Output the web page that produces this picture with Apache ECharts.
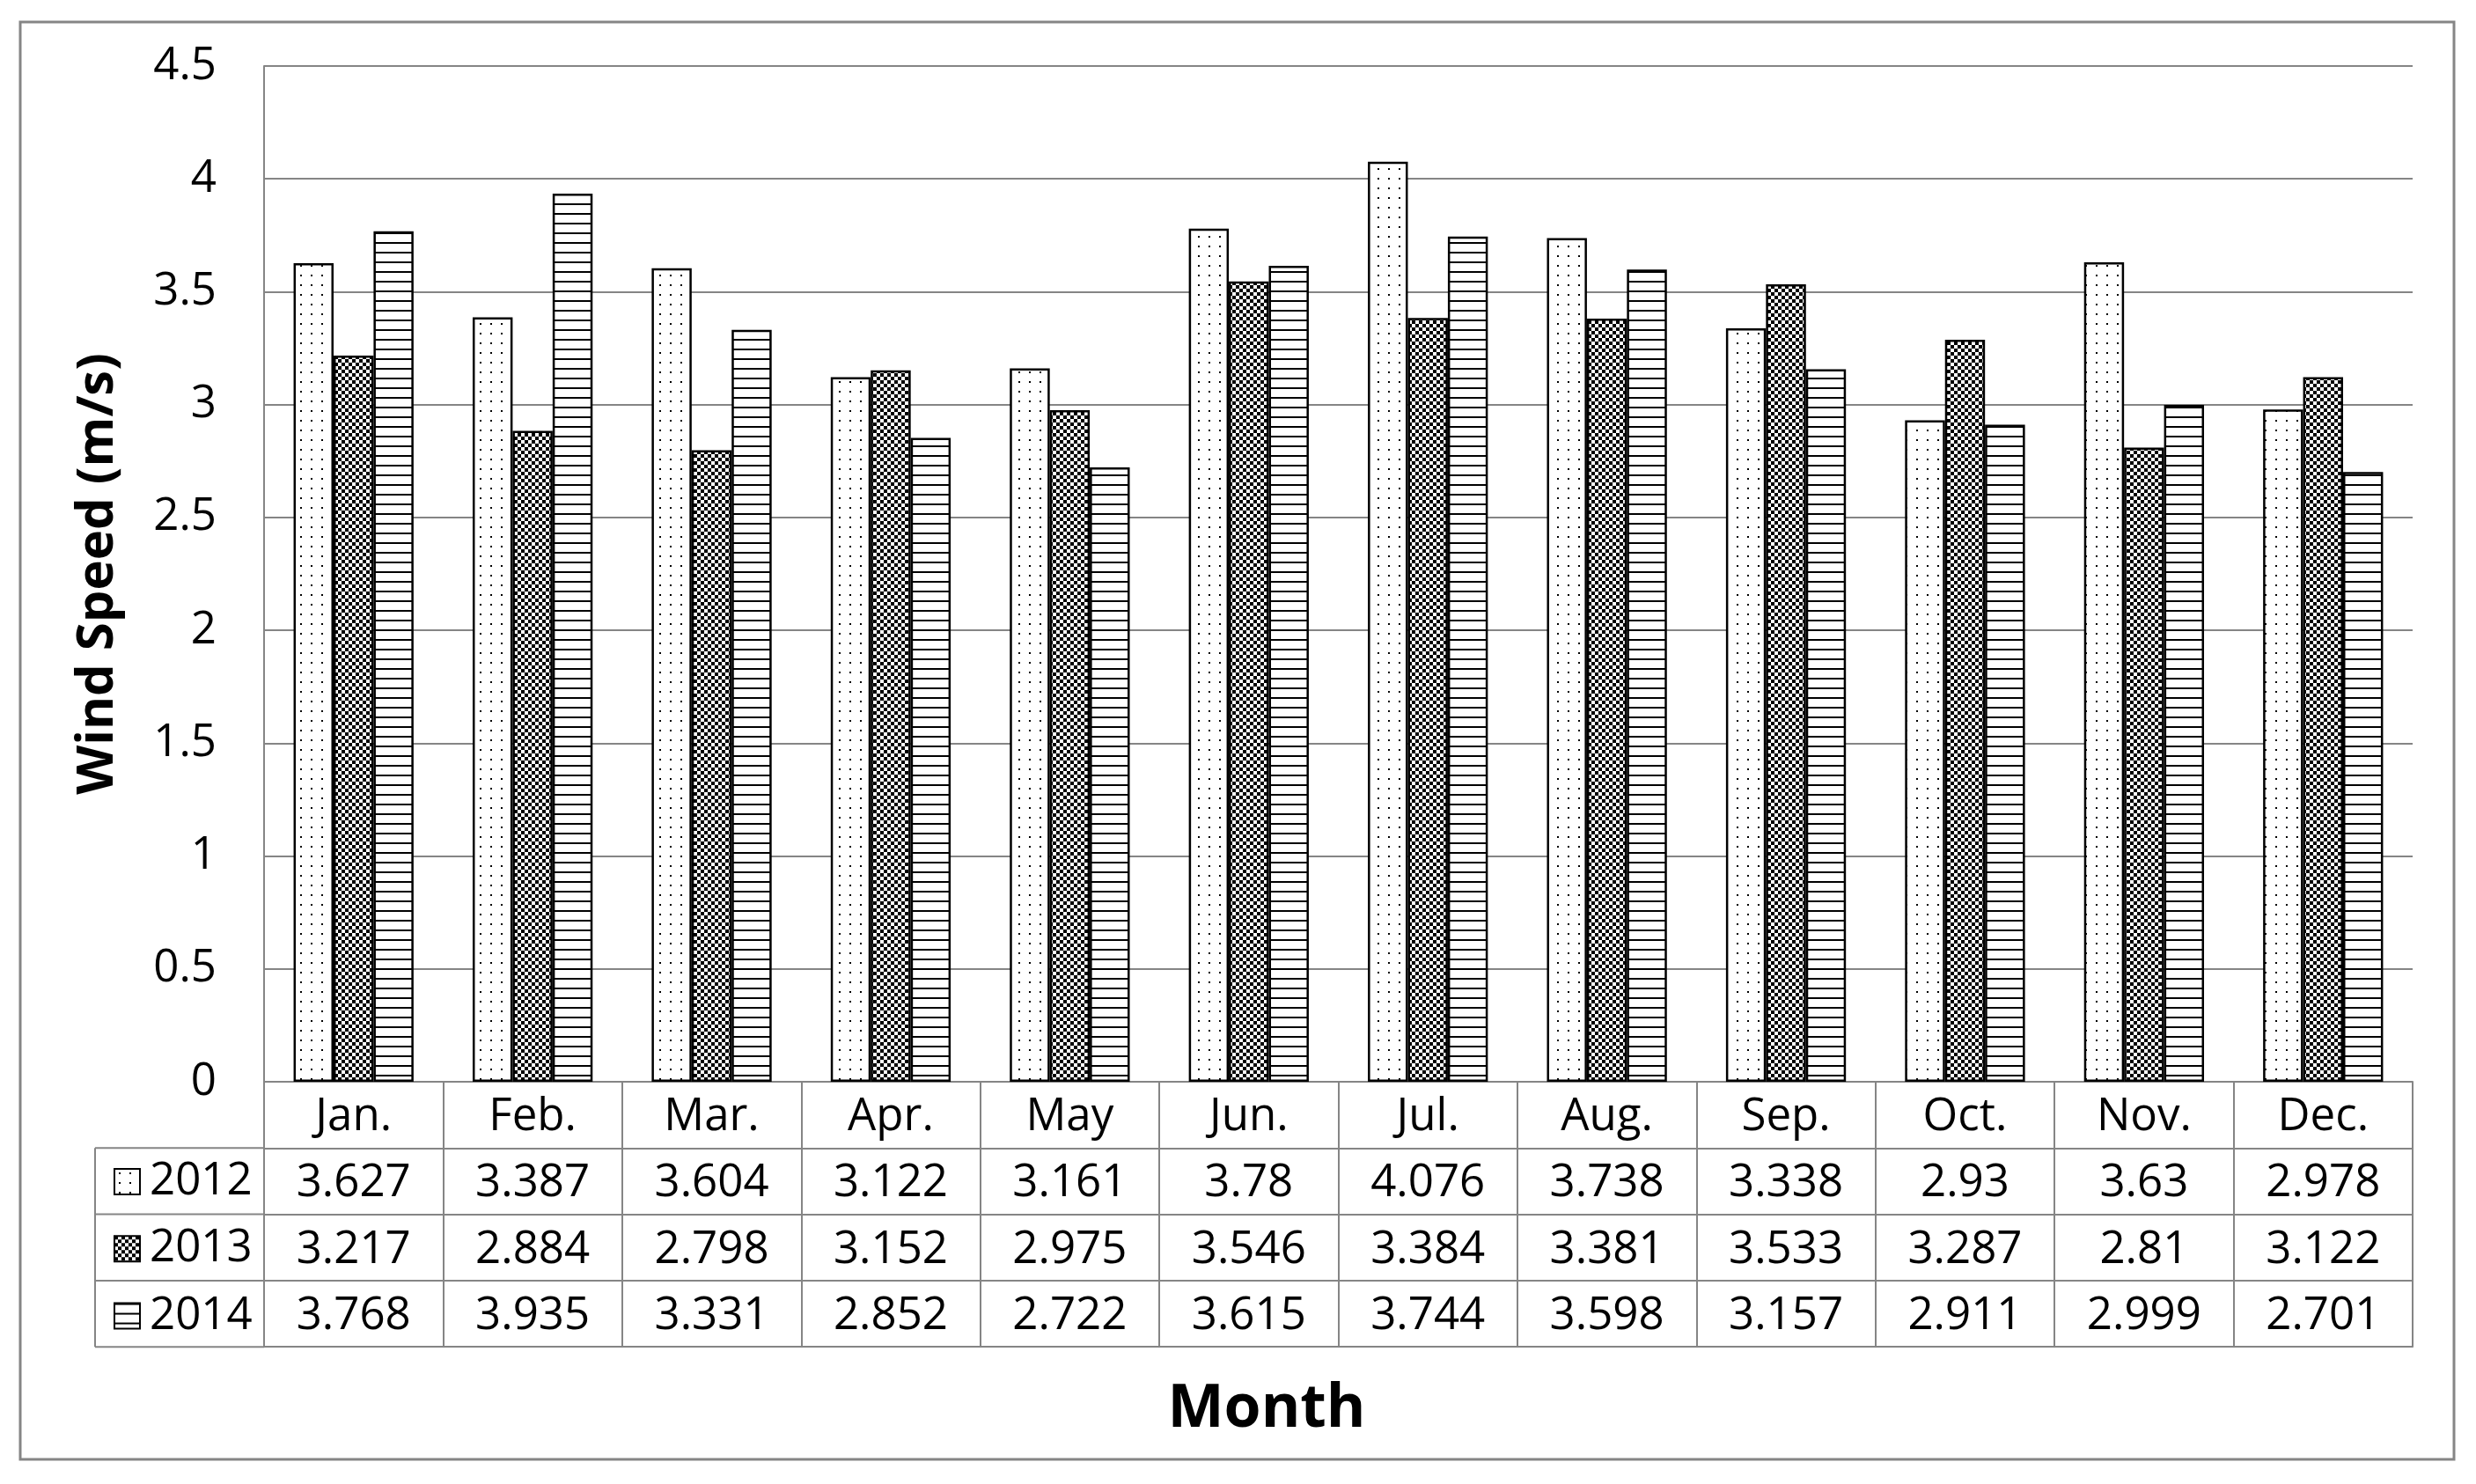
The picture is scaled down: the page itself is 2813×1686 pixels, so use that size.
<!DOCTYPE html>
<html>
<head>
<meta charset="utf-8">
<script src="https://cdn.jsdelivr.net/npm/echarts@6/dist/echarts.min.js"></script>
<style>
html,body{margin:0;padding:0;background:#fff;}
#c{width:2813px;height:1686px;}
</style>
</head>
<body>
<div id="c"></div>
<script>
// ---- data ----
const categories = ['Jan.','Feb.','Mar.','Apr.','May','Jun.','Jul.','Aug.','Sep.','Oct.','Nov.','Dec.'];
const years = ['2012','2013','2014'];
const v2012 = [3.627,3.387,3.604,3.122,3.161,3.78,4.076,3.738,3.338,2.93,3.63,2.978];
const v2013 = [3.217,2.884,2.798,3.152,2.975,3.546,3.384,3.381,3.533,3.287,2.81,3.122];
const v2014 = [3.768,3.935,3.331,2.852,2.722,3.615,3.744,3.598,3.157,2.911,2.999,2.701];
const yMin = 0, yMax = 4.5, yStep = 0.5;
const yName = 'Wind Speed (m/s)';
const xName = 'Month';

// ---- patterns ----
function pattern(kind){
  const c = document.createElement('canvas');
  const g = c.getContext('2d');
  if(kind==='dots'){ c.width=12; c.height=11; g.fillStyle='#fff'; g.fillRect(0,0,12,11); g.fillStyle='#000'; g.fillRect(5,4,2,2); }
  else if(kind==='checker'){ c.width=8; c.height=8; g.fillStyle='#fff'; g.fillRect(0,0,8,8); g.fillStyle='#000'; g.fillRect(0,0,4,4); g.fillRect(4,4,4,4); }
  else { c.width=8; c.height=11; g.fillStyle='#fff'; g.fillRect(0,0,8,11); g.fillStyle='#000'; g.fillRect(0,0,8,2); }
  return {image:c, repeat:'repeat'};
}
const fills = [pattern('dots'), pattern('checker'), pattern('lines')];
const values = [v2012, v2013, v2014];

const grey = '#858585';
const numFont = "'Liberation Sans Narrow','Open Sans',sans-serif";
const boldFont = "'Open Sans','DejaVu Sans',sans-serif";
const numSize = 51;
const gridL = 300, gridR = 2741, gridT = 75, gridB = 1229;
const rowH = 75.3;

function tableAxis(i, fmt){
  return {
    type:'category', data:categories, position:'bottom', offset: i*rowH,
    axisLine:{show:true, lineStyle:{color:grey, width:2}},
    axisTick:{show:true, length:rowH, interval:0, lineStyle:{color:grey, width:2}},
    axisLabel:{show:true, interval:0, margin:rowH/2+3, verticalAlign:'middle', color:'#000',
      fontSize:numSize, fontFamily:numFont, formatter:fmt},
    splitLine:{show:false}
  };
}
const xAxes = [tableAxis(0, v=>v)];
values.forEach((arr,k)=>{ xAxes.push(tableAxis(k+1, (v,idx)=>String(arr[idx]))); });
xAxes.push({type:'category', data:categories, position:'bottom', offset:4*rowH,
  axisLine:{show:true, lineStyle:{color:grey, width:2}}, axisTick:{show:false}, axisLabel:{show:false}, splitLine:{show:false}});

const chart = echarts.init(document.getElementById('c'), null, {renderer:'canvas'});
const tblTop = gridB + rowH, tblBot = gridB + 4*rowH, tblLeft = 108;
const graphics = [
  {type:'rect', shape:{x:23, y:25, width:2765, height:1633}, style:{fill:'none', stroke:grey, lineWidth:3}, silent:true},
  {type:'line', shape:{x1:tblLeft, y1:tblTop, x2:tblLeft, y2:tblBot}, style:{stroke:grey, lineWidth:2}, silent:true},
  {type:'text', x:1439, y:1602, style:{text:xName, textAlign:'center', textVerticalAlign:'middle', fontSize:68, fontWeight:'bold', fontFamily:boldFont, fill:'#000'}}
];
for(let r=1;r<=4;r++){
  graphics.push({type:'line', shape:{x1:tblLeft, y1:gridB+r*rowH, x2:gridL, y2:gridB+r*rowH}, style:{stroke:grey, lineWidth:2}, silent:true});
}

const legendItemH = 50;
chart.setOption({
  animation:false,
  backgroundColor:'#fff',
  grid:{left:gridL, right:2813-gridR, top:gridT, bottom:1686-gridB, containLabel:false},
  legend:{
    orient:'vertical', left:129, top:gridB+rowH+rowH/2-legendItemH/2, padding:0,
    itemWidth:29, itemHeight:29, itemGap:rowH-legendItemH, icon:'rect',
    itemStyle:{borderColor:'#000', borderWidth:2},
    textStyle:{fontSize:numSize, fontFamily:numFont, color:'#000', padding:[0,0,0,6]},
    data:years
  },
  xAxis:xAxes,
  yAxis:{
    type:'value', min:yMin, max:yMax, interval:yStep,
    name:yName, nameLocation:'middle', nameRotate:90, nameGap:189,
    nameTextStyle:{fontSize:58, fontWeight:'bold', fontFamily:boldFont, color:'#000', verticalAlign:'middle'},
    axisLine:{show:true, lineStyle:{color:grey, width:2}},
    axisTick:{show:false},
    axisLabel:{margin:54, fontSize:numSize, fontFamily:numFont, color:'#000'},
    splitLine:{show:true, lineStyle:{color:grey, width:2}}
  },
  series: years.map((y,k)=>({
    name:y, type:'bar', xAxisIndex:0, data:values[k],
    barCategoryGap:'33%', barGap:'0%',
    itemStyle:{color:fills[k], borderColor:'#000', borderWidth:2.5}
  })),
  graphic:graphics
});
</script>
</body>
</html>
